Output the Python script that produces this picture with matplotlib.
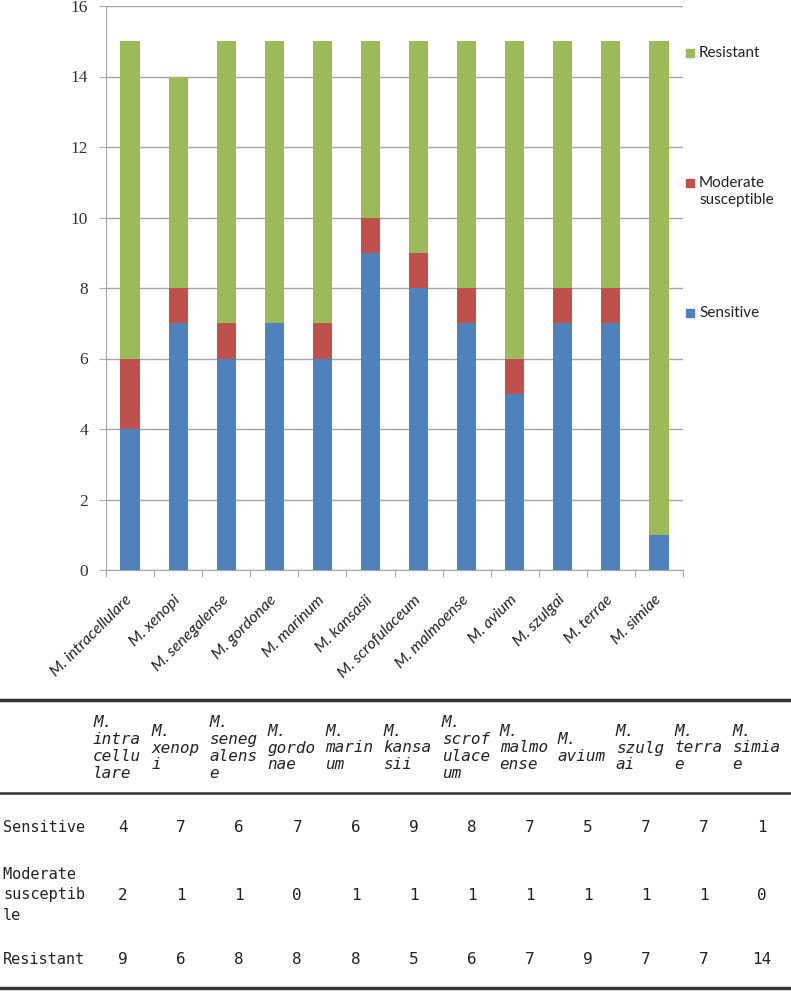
# Gráfico de barras apiladas + tabla de valores
import textwrap
import numpy as np
import matplotlib.pyplot as plt
from matplotlib.patches import Rectangle

# Datos
especies = ["M. intracellulare", "M. xenopi", "M. senegalense", "M. gordonae",
            "M. marinum", "M. kansasii", "M. scrofulaceum", "M. malmoense",
            "M. avium", "M. szulgai", "M. terrae", "M. simiae"]
series = ["Sensitive", "Moderate susceptible", "Resistant"]
sensitive = [4, 7, 6, 7, 6, 9, 8, 7, 5, 7, 7, 1]
moderate = [2, 1, 1, 0, 1, 1, 1, 1, 1, 1, 1, 0]
resistant = [9, 6, 8, 8, 8, 5, 6, 7, 9, 7, 7, 14]
y_ticks = [0, 2, 4, 6, 8, 10, 12, 14, 16]

colores = ["#4F81BD", "#C0504D", "#9BBB59"]
W, H = 791, 991

fig = plt.figure(figsize=(W / 100, H / 100), dpi=100)

# Ejes del gráfico (en píxeles de la imagen)
ax = fig.add_axes([106 / W, 1 - 570 / H, (683 - 106) / W, (570 - 6) / H])
x = np.arange(len(especies))
valores = [sensitive, moderate, resistant]
base = np.zeros(len(especies))
for serie, vals, c in zip(series, valores, colores):
    ax.bar(x, vals, width=0.4, bottom=base, color=c, label=serie, zorder=3)
    base += np.array(vals)

ax.set_xlim(-0.5, len(especies) - 0.5)
ax.set_ylim(0, 16)
ax.set_yticks(y_ticks)
ax.set_yticklabels([str(v) for v in y_ticks], fontfamily="Liberation Serif", fontsize=12.5,
                   color="#333333")
ax.grid(axis="y", color="#A6A6A6", linewidth=1, zorder=0)
ax.tick_params(axis="y", length=5, color="#A6A6A6", pad=8)

# Marcas en los límites de categoría, etiquetas en el centro
ax.set_xticks(np.arange(-0.5, len(especies), 1))
ax.set_xticklabels([])
ax.tick_params(axis="x", which="major", length=5, color="#A6A6A6")
ax.set_xticks(x, minor=True)
ax.set_xticklabels(especies, minor=True, rotation=45, ha="right", va="center",
                   rotation_mode="anchor", fontfamily="Lato", fontstyle="italic",
                   fontsize=11.5, color="#222222")
ax.tick_params(axis="x", which="minor", length=0, pad=20)

for s in ["top", "right"]:
    ax.spines[s].set_visible(False)
for s in ["left", "bottom"]:
    ax.spines[s].set_color("#A6A6A6")

# Leyenda estilo Excel (orden inverso, etiquetas muy separadas)
leg_y = {"Resistant": 53, "Moderate susceptible": 183, "Sensitive": 313}
for serie, c in zip(series, colores):
    yy = leg_y[serie]
    fig.patches.append(Rectangle((686 / W, 1 - (yy + 4) / H), 8 / W, 8 / H,
                                 transform=fig.transFigure, color=c))
    fig.text(699 / W, 1 - (yy - 7) / H, serie.replace(" ", "\n"), ha="left", va="top",
             fontfamily="Lato", fontsize=11, color="#222222", linespacing=1.25)

# Tabla de valores debajo
tx = fig.add_axes([0, 0, 1, 1], zorder=-1)
tx.set_xlim(0, W)
tx.set_ylim(H, 0)
tx.axis("off")

mono = "DejaVu Sans Mono"
tx.axhline(700, color="#333333", linewidth=2.5)
tx.axhline(793, color="#333333", linewidth=1.8)
tx.axhline(988, color="#333333", linewidth=2.5)

centros = 123 + 58.1 * np.arange(len(especies))
for cx, nombre in zip(centros, especies):
    pref, resto = nombre.split(" ")
    lineas = [pref] + textwrap.wrap(resto, 5, break_long_words=True)
    tx.text(cx - 30, 748, "\n".join(lineas), ha="left", va="center", fontfamily=mono,
            fontstyle="italic", fontsize=11.5, linespacing=1.15, color="#222222")

filas_y = [828, 895, 960]
for fy, serie, vals in zip(filas_y, series, valores):
    etiqueta = "\n".join(textwrap.wrap(serie, 9, break_long_words=True))
    tx.text(3, fy, etiqueta, ha="left", va="center", fontfamily=mono, fontsize=11,
            linespacing=1.45, color="#222222")
    for cx, v in zip(centros, vals):
        tx.text(cx, fy, str(v), ha="center", va="center", fontfamily=mono, fontsize=11.5,
                color="#222222")

plt.savefig("out.png", dpi=100)
